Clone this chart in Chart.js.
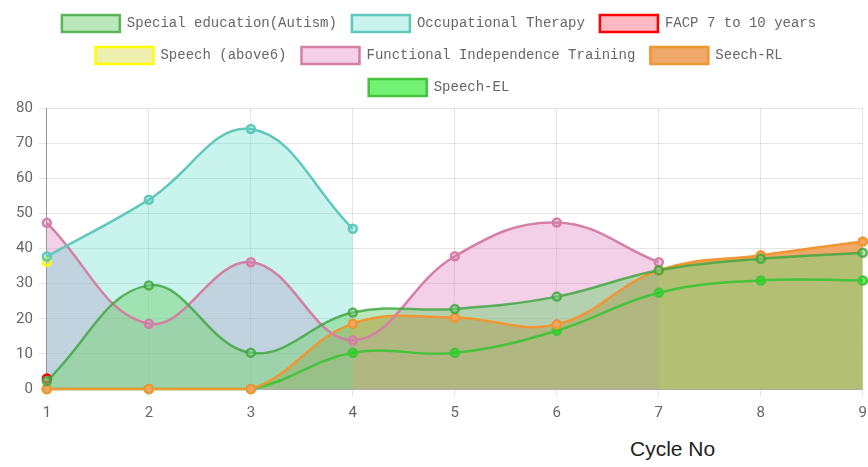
<!DOCTYPE html>
<html>
<head>
<meta charset="utf-8">
<script src="https://cdn.jsdelivr.net/npm/chart.js@4.4.0/dist/chart.umd.min.js"></script>
<style>
  body { margin: 0; overflow: hidden; background: #fff; }
  #wrap { position: absolute; left: 0; top: 0; width: 874px; height: 429px; }
  #xtitle { position: absolute; left: 630px; top: 437px; font: 21px "Liberation Sans", Arial, sans-serif; color: #222; }
</style>
</head>
<body>
<div id="wrap"><canvas id="c"></canvas></div>
<div id="xtitle">Cycle No</div>
<script>
// data
const cycles = ['1', '2', '3', '4', '5', '6', '7', '8', '9']
const specialEd = [2.3, 29.5, 10.3, 21.8, 22.8, 26.3, 33.8, 37.1, 38.8]
const occTherapy = [37.7, 53.9, 74, 45.6, null, null, null, null, null]
const facp = [3, null, null, null, null, null, null, null, null]
const speechAbove6 = [36.2, null, null, null, null, null, null, null, null]
const fit = [47.3, 18.6, 36.1, 13.9, 37.8, 47.4, 36.1, null, null]
const speechRL = [0, 0, 0, 18.6, 20.3, 18.4, 33.8, 38.1, 42]
const speechEL = [0, 0, 0, 10.3, 10.3, 16.6, 27.4, 30.9, 30.9]

function series(label, data, line, fill) {
  return {
    label: label,
    data: data,
    borderColor: line,
    backgroundColor: fill,
    pointBackgroundColor: fill,
    pointBorderColor: line,
    fill: 'origin',
    tension: 0.4,
    borderWidth: 2.5,
    pointRadius: 4,
    pointBorderWidth: 2.5,
    clip: false
  }
}

// a little more room under the legend
const legendGap = {
  id: 'legendGap',
  beforeInit(chart) {
    const fitLegend = chart.legend.fit
    chart.legend.fit = function () {
      fitLegend.bind(chart.legend)()
      this.height += 2
    }
  }
}

const tickFont = { family: 'Roboto, sans-serif', size: 15 }

new Chart(document.getElementById('c'), {
  type: 'line',
  data: {
    labels: cycles,
    datasets: [
      series('Special education(Autism)', specialEd, 'rgba(60,165,60,0.8)', 'rgba(124,212,124,0.53)'),
      series('Occupational Therapy', occTherapy, 'rgb(98,200,188)', 'rgba(75,220,200,0.3)'),
      series('FACP 7 to 10 years', facp, 'rgb(255,0,0)', 'rgba(255,100,120,0.45)'),
      series('Speech (above6)', speechAbove6, 'rgb(255,255,0)', 'rgba(220,220,80,0.45)'),
      series('Functional Independence Training', fit, 'rgb(212,128,164)', 'rgba(220,120,190,0.35)'),
      series('Seech-RL', speechRL, 'rgb(240,150,50)', 'rgb(240,168,104)'),
      series('Speech-EL', speechEL, 'rgb(70,195,60)', 'rgba(0,230,0,0.55)')
    ]
  },
  plugins: [legendGap],
  options: {
    responsive: true,
    maintainAspectRatio: false,
    animation: false,
    layout: { padding: { left: 4, top: 0, right: 0, bottom: 0 } },
    plugins: {
      filler: { drawTime: 'beforeDatasetsDraw' },
      tooltip: { enabled: false },
      legend: {
        labels: {
          boxWidth: 58,
          boxHeight: 17,
          padding: 15,
          color: '#666',
          font: { family: '"Liberation Mono", monospace', size: 14 }
        }
      }
    },
    scales: {
      x: {
        grid: { color: 'rgba(0,0,0,0.1)', tickLength: 8 },
        border: { color: 'rgba(0,0,0,0.25)' },
        ticks: { color: '#666', font: tickFont, padding: 7 }
      },
      y: {
        min: 0,
        max: 80,
        afterFit: (scale) => { scale.width += 6 },
        grid: { color: 'rgba(0,0,0,0.1)', tickLength: 8 },
        border: { color: 'rgba(0,0,0,0.35)' },
        ticks: { stepSize: 10, color: '#666', font: tickFont, padding: 6 }
      }
    }
  }
})
</script>
</body>
</html>
